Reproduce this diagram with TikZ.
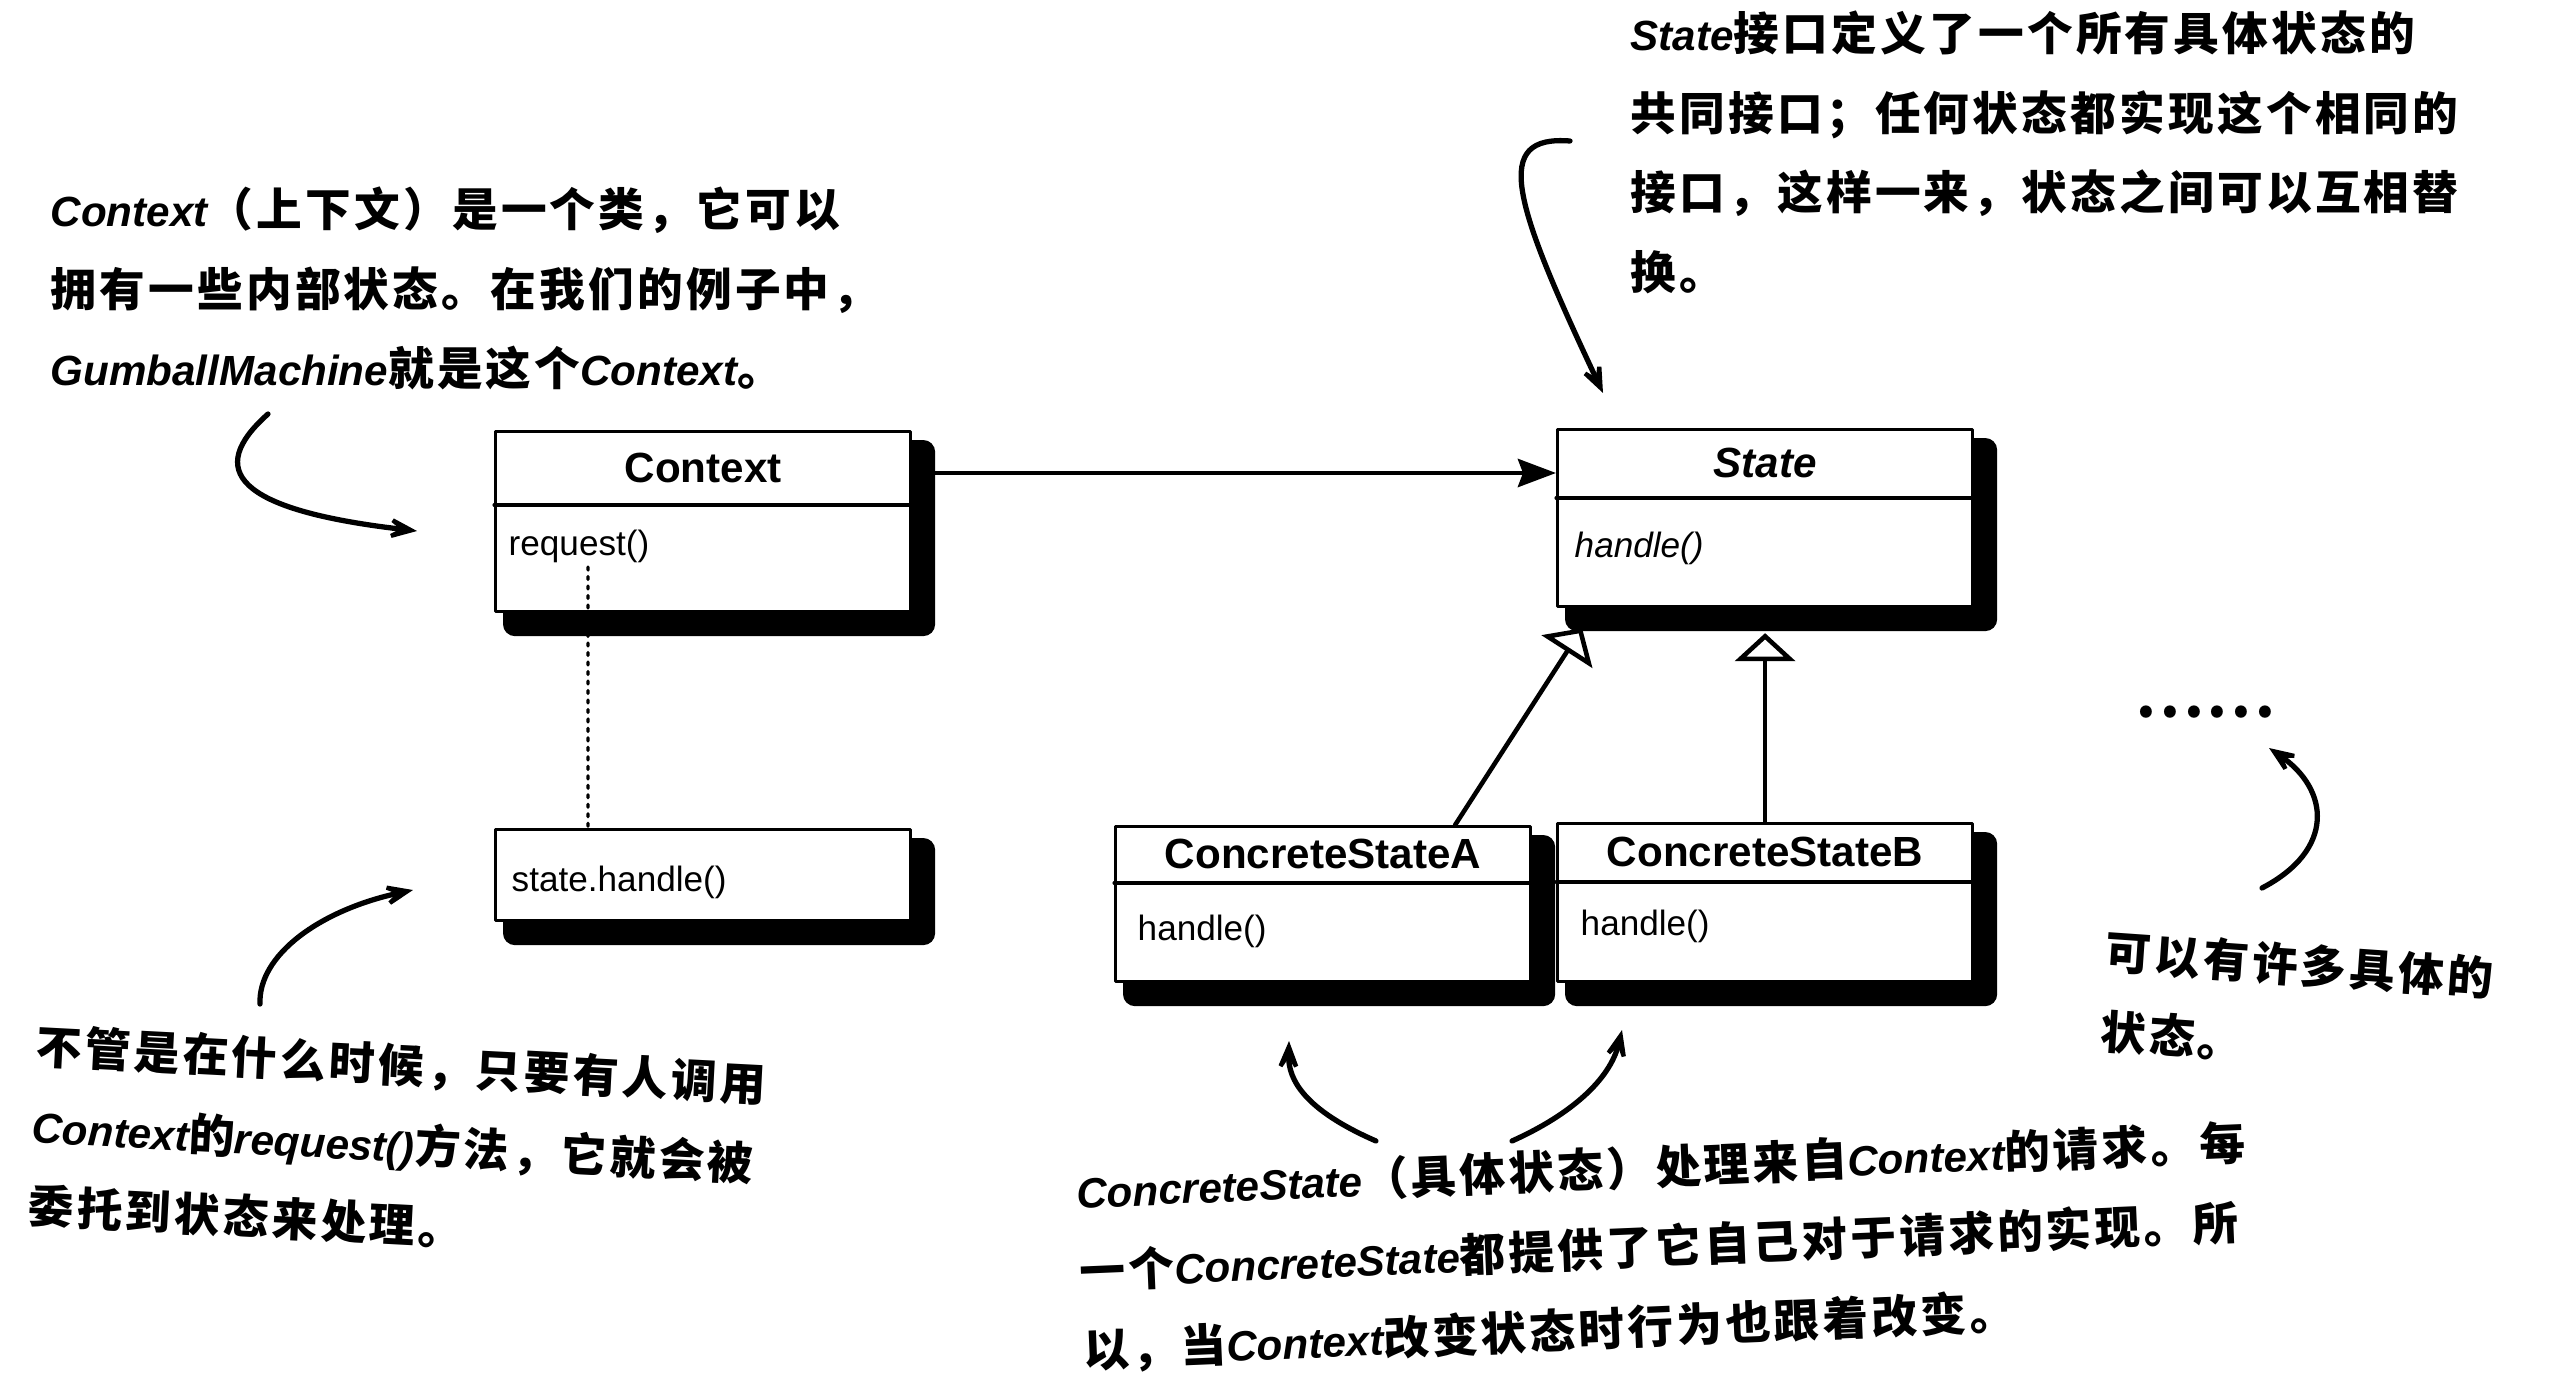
\documentclass[tikz,border=0pt]{standalone}
\usepackage{fontspec}
\setmainfont{Liberation Sans}
\newfontfamily\cjk[LetterSpace=7]{Noto Sans CJK SC}
\newfontfamily\latinfont{Liberation Sans}
\newcommand\en[1]{{\latinfont\bfseries\itshape\fontsize{12}{22.7}\selectfont #1}}
\usetikzlibrary{arrows.meta}
\usetikzlibrary{calc}
\pgfdeclarelayer{background}
\pgfsetlayers{background,main}
\tikzstyle{every path}=[line cap=round,line join=round]
\tikzstyle{classbox}=[draw,fill=white,line width=0.9pt,inner sep=0pt,anchor=north west,minimum width=41.5mm]
\tikzstyle{classname}=[font=\fontsize{12}{14}\selectfont\bfseries,inner sep=0pt]
\tikzstyle{method}=[font=\fontsize{10}{12}\selectfont,inner sep=0pt,anchor=base west]
\tikzstyle{remark}=[font=\cjk\bfseries\fontsize{13}{22.7}\selectfont,align=left,inner sep=0pt,anchor=north west]
\tikzstyle{remarkarrow}=[line width=1.5pt,-{Stealth[length=4.5mm,width=3.6mm,inset=2.8mm]}]
\tikzstyle{inherit}=[line width=1.3pt,-{Triangle[fill=white,length=2.8mm,width=6mm]}]
\tikzstyle{assoc}=[line width=1.4pt,-{Stealth[length=3.8mm,width=2.8mm,inset=0.5mm]}]

\begin{document}
\begin{tikzpicture}[x=0.1mm,y=-0.1mm]
  \useasboundingbox (0,0) rectangle (2552,1376);
  % classes
  \node[classbox,minimum height=18mm] (context) at (494,430) {};
  \node[classbox,minimum height=9.1mm] (note) at (494,828) {};
  \node[classbox,minimum height=17.7mm] (state) at (1556,428) {};
  \node[classbox,minimum height=15.5mm] (csa) at (1114,825) {};
  \node[classbox,minimum height=15.8mm] (csb) at (1556,822) {};
  \draw[line width=0.9pt] ([yshift=-7.5mm]context.north west) -- ([yshift=-7.5mm]context.north east)
    ([yshift=-7mm]state.north west) -- ([yshift=-7mm]state.north east)
    ([yshift=-5.8mm]csa.north west) -- ([yshift=-5.8mm]csa.north east)
    ([yshift=-6mm]csb.north west) -- ([yshift=-6mm]csb.north east);
  \node[classname] (contextname) at ([yshift=-3.75mm]context.north) {Context};
  \node[classname] (statename) at ([yshift=-3.5mm]state.north) {\itshape State};
  \node[classname] (csaname) at ([yshift=-2.9mm]csa.north) {ConcreteStateA};
  \node[classname] (csbname) at ([yshift=-3mm]csb.north) {ConcreteStateB};
  \node[method] (contextreq) at ([shift={(14,125)}]context.north west) {request()};
  \node[method] (notetext) at ([shift={(17,63)}]note.north west) {state.handle()};
  \node[method] (statehandle) at ([shift={(18,129)}]state.north west) {\itshape handle()};
  \node[method] (csahandle) at ([shift={(23,115)}]csa.north west) {handle()};
  \node[method] (csbhandle) at ([shift={(24,113)}]csb.north west) {handle()};
  \begin{pgfonlayer}{background}
    \fill[white] (0,0) rectangle (2552,1376);
    \foreach \b in {context,note,state,csa,csb}
      \fill[rounded corners=1.2mm] ([shift={(9,10)}]\b.north west) rectangle ([shift={(23,23)}]\b.south east);
  \end{pgfonlayer}
  % connectors
  \draw[assoc] ([shift={(23,43)}]context.north east) -- ([shift={(0,45)}]state.north west);
  \draw[line width=0.9pt,dash pattern=on 0.9pt off 1.8pt] ([shift={(94,137)}]context.north west) -- ([xshift=9.4mm]note.north west);
  \draw[inherit] ([xshift=13.2mm]csa.north) -- ([shift={(-183,20)}]state.south);
  \draw[inherit] (csb.north) -- ([yshift=-2.5mm]state.south);
  % remarks
  \node[remark] (contextnote) at (50,186) {\en{Context}（上下文）是一个类，它可以\\拥有一些内部状态。在我们的例子中，\\\en{GumballMachine}就是这个\en{Context}。};
  \node[remark] (statenote) at (1630,10) {\en{State}接口定义了一个所有具体状态的\\共同接口；任何状态都实现这个相同的\\接口，这样一来，状态之间可以互相替\\换。};
  \node[remark,rotate=-3] (delegatenote) at (37,1023) {不管是在什么时候，只要有人调用\\\en{Context}的\en{request()}方法，它就会被\\委托到状态来处理。};
  \node[remark,rotate=2.4] (concretenote) at (1075,1168) {\en{ConcreteState}（具体状态）处理来自\en{Context}的请求。每\\一个\en{ConcreteState}都提供了它自己对于请求的实现。所\\以，当\en{Context}改变状态时行为也跟着改变。};
  \node[remark,rotate=-4] (manynote) at (2107,929) {可以有许多具体的\\状态。};
  \node[font=\cjk\fontsize{16}{16}\selectfont\bfseries,inner sep=0pt] (more) at (2206,712) {......};
  \coordinate (contextfrom) at (268,414);
  \coordinate (contextto) at (417,531);
  \coordinate (delegatefrom) at (260,1004);
  \coordinate (delegateto) at (413,890);
  \coordinate (statefrom) at (1570,141);
  \coordinate (stateto) at (1603,393);
  \coordinate (afrom) at (1376,1141);
  \coordinate (ato) at (1289,1041);
  \coordinate (bfrom) at (1512,1141);
  \coordinate (bto) at (1622,1030);
  \coordinate (morefrom) at (2262,888);
  \coordinate (moreto) at (2269,748);
  \draw[remarkarrow] (contextfrom) .. controls (205,470) and (235,510) .. (contextto);
  \draw[remarkarrow] (delegatefrom) .. controls (258,955) and (320,910) .. (delegateto);
  \draw[remarkarrow] (statefrom) .. controls (1492,135) and (1512,200) .. (stateto);
  \draw[remarkarrow] (afrom) .. controls (1305,1110) and (1288,1080) .. (ato);
  \draw[remarkarrow] (bfrom) .. controls (1570,1115) and (1610,1080) .. (bto);
  \draw[remarkarrow] (morefrom) .. controls (2335,850) and (2330,790) .. (moreto);
\end{tikzpicture}
\end{document}
